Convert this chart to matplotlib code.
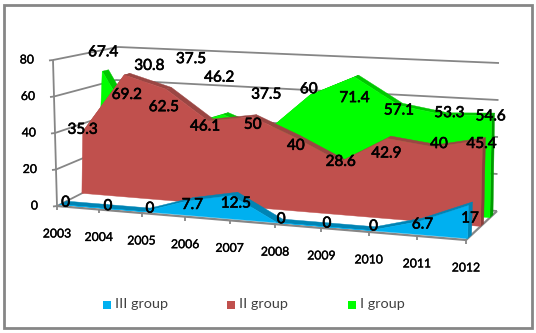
import matplotlib
matplotlib.use("Agg")
import matplotlib.pyplot as plt
import matplotlib.patheffects as pe
from matplotlib.patches import Polygon, Rectangle

years = ["2003", "2004", "2005", "2006", "2007", "2008", "2009", "2010", "2011", "2012"]
group_iii = [0, 0, 0, 7.7, 12.5, 0, 0, 0, 6.7, 17]
group_ii = [35.3, 69.2, 62.5, 46.1, 50, 40, 28.6, 42.9, 40, 45.4]
group_i = [67.4, 30.8, 37.5, 46.2, 37.5, 60, 71.4, 57.1, 53.3, 54.6]
y_ticks = [0, 20, 40, 60, 80]
legend_names = ["III group", "II group", "I group"]

# label nudges relative to each anchor (pixels)
nudge_i = [(1, -19), (9.6, -70), (10, -68), (-4, -37), (1, -38), (-1, -6), (0, 21), (0, 5), (4.6, -2), (-1, 1)]
nudge_ii = [(0, -2), (2.6, 20), (-2, 18), (-3, 5.5), (1, 8), (0, 8), (0, 0), (-1, 15), (4.6, -3), (-1, 4)]
nudge_iii = [(6, -2), (6.6, -2), (6, -3), (5, 4), (4, 8), (4, -3.5), (3.5, -3), (3, -4), (3.6, 3), (1.5, 13)]

plt.rcParams["font.family"] = ["Lato", "DejaVu Sans"]
W, H = 536, 333
fig = plt.figure(figsize=(W / 100, H / 100), dpi=100, facecolor="white")
ax = fig.add_axes([0, 0, 1, 1])
ax.set_xlim(0, W)
ax.set_ylim(H, 0)
ax.axis("off")

heavy = [pe.withStroke(linewidth=0.45, foreground="black")]
semi = [pe.withStroke(linewidth=0.25, foreground="black")]


def lerp(a, b, t):
    return a + (b - a) * t


def P(i, v, d):
    """Oblique projection: category index, value, depth (0 front, 1 back)."""
    t = i / 9
    t = t - 0.09 * t * (1 - t)
    fx, fy = lerp(57, 466, t), lerp(206, 240, t)
    bx, by = lerp(110, 497, t), lerp(179, 211, t)
    s = lerp(lerp(1.825, 1.95, t), lerp(1.65, 1.85, t), d)
    lean = lerp(lerp(-0.05, 0.06, t), lerp(0.10, 0.025, t), d)
    return lerp(fx, bx, d) + lean * v, lerp(fy, by, d) - s * v


GRID = "#868686"
n = len(years)


def line(pts, lw=1.3, color=GRID, z=2):
    ax.plot([p[0] for p in pts], [p[1] for p in pts], color=color, lw=lw, zorder=z,
            solid_capstyle="butt")


# frame
ax.add_patch(Rectangle((3.5, 4.5), 528, 323, fill=False, ec=GRID, lw=2, zorder=1))

# walls' gridlines
for v in y_ticks:
    line([P(0, v, 0), P(0, v, 1), P(n - 1, v, 1)])
    x0, y0 = P(0, v, 0)
    line([(x0 - 4, y0 + 0.5), (x0, y0)])
    ax.text(x0 - 19, y0, str(v), ha="right", va="center", fontsize=8.8, color="black",
            zorder=9, path_effects=semi)
line([P(0, 0, 0), P(0, y_ticks[-1], 0)])

# floor edges and category axis
line([P(0, 0, 0), P(n - 1, 0, 0), P(n - 1, 0, 1)], lw=1.6)
for i, yr in enumerate(years):
    x, y = P(i, 0, 0)
    line([(x, y), (x, y + 4)])
    ax.text(x, y + 28, yr, ha="center", va="center", fontsize=8.8, color="black", zorder=9,
            path_effects=semi)


def area(values, d, front, dark, side, z, dd=0.1):
    for i in range(n - 1):
        quad = [P(i, values[i], d), P(i + 1, values[i + 1], d),
                P(i + 1, values[i + 1], d + dd), P(i, values[i], d + dd)]
        ax.add_patch(Polygon(quad, closed=True, fc=dark, ec=dark, lw=0.3, zorder=z))
    last = n - 1
    ax.add_patch(Polygon([P(last, values[last], d), P(last, 0, d), P(last, 0, d + dd),
                          P(last, values[last], d + dd)], closed=True, fc=side, ec=side,
                         lw=0.3, zorder=z))
    outline = [P(i, values[i], d) for i in range(n)] + [P(last, 0, d), P(0, 0, d)]
    ax.add_patch(Polygon(outline, closed=True, fc=front, ec=front, lw=0.3, zorder=z + 0.5))


area(group_i, 0.77, "#00FF00", "#00C800", "#009A00", 3)
area(group_ii, 0.47, "#C0504D", "#9A4643", "#8A3E3B", 4)
area(group_iii, 0.05, "#00B0F0", "#0084B4", "#0084B4", 5, dd=0.13)

# data labels
for values, d, nudges in [(group_i, 0.77, nudge_i), (group_ii, 0.47, nudge_ii),
                          (group_iii, 0.05, nudge_iii)]:
    for i, v in enumerate(values):
        x, y = P(i, v, d)
        ax.text(x + nudges[i][0], y + nudges[i][1], f"{v:g}", ha="center", va="center",
                fontsize=11, color="black", zorder=10, path_effects=heavy)

# legend
for name, color, x in zip(legend_names, ["#00B0F0", "#C0504D", "#00FF00"], [103, 227, 348]):
    ax.add_patch(Rectangle((x, 300.5), 8, 8, fc=color, ec="none", zorder=9))
    ax.text(x + 12, 304, name, ha="left", va="center", fontsize=10.4, color="#404040", zorder=9)

fig.savefig("out.png", dpi=100, facecolor="white")
